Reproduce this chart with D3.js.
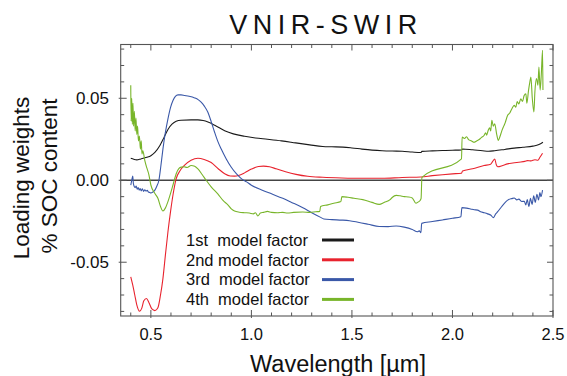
<!DOCTYPE html>
<html><head><meta charset="utf-8">
<script src="https://cdn.jsdelivr.net/npm/d3@7"></script>
<style>
html,body{margin:0;padding:0;background:#fff;}
svg{display:block;font-family:"Liberation Sans",Arial,Helvetica,sans-serif;}
</style></head>
<body><svg id="chart" width="567" height="376"></svg>
<script>
const title = "VNIR-SWIR";
const xLabel = "Wavelength [µm]";
const yLabelLines = ["Loading weights", "% SOC content"];
const xTickValues = [0.5, 1.0, 1.5, 2.0, 2.5];
const xTickLabels = ["0.5", "1.0", "1.5", "2.0", "2.5"];
const yTickValues = [-0.05, 0, 0.05];
const yTickLabels = ["-0.05", "0.00", "0.05"];
const seriesNames = ["1st  model factor", "2nd model factor", "3rd  model factor", "4th  model factor"];
const seriesColors = ["#1a1a1a", "#e8232e", "#3a58a8", "#78b52a"];

const factor1 = [[0.40,0.0134],[0.415,0.0128],[0.43,0.0124],[0.45,0.0130],[0.48,0.0140],[0.50,0.0150],[0.52,0.0170],[0.545,0.0212],[0.565,0.026],[0.585,0.031],[0.605,0.0342],[0.626,0.0360],[0.65,0.0366],[0.70,0.0368],[0.734,0.0368],[0.76,0.0364],[0.784,0.0355],[0.82,0.0334],[0.867,0.0302],[0.91,0.0283],[0.966,0.0268],[1.02,0.0258],[1.08,0.0250],[1.15,0.0240],[1.22,0.0228],[1.29,0.0216],[1.355,0.0206],[1.40,0.0204],[1.455,0.0202],[1.50,0.0197],[1.55,0.0190],[1.60,0.0184],[1.65,0.0180],[1.70,0.0178],[1.75,0.0177],[1.80,0.0172],[1.843,0.0169],[1.848,0.0176],[1.90,0.0179],[1.95,0.0181],[2.00,0.0183],[2.045,0.0185],[2.05,0.0191],[2.10,0.0186],[2.15,0.0180],[2.18,0.0177],[2.21,0.0180],[2.26,0.0188],[2.307,0.0196],[2.35,0.0201],[2.40,0.0208],[2.43,0.0218],[2.45,0.0232]];

const factor2 = [[0.40,-0.0589],[0.41,-0.064],[0.42,-0.070],[0.43,-0.076],[0.444,-0.0799],[0.455,-0.078],[0.465,-0.0735],[0.478,-0.0721],[0.49,-0.0745],[0.505,-0.0785],[0.52,-0.0795],[0.535,-0.0778],[0.548,-0.070],[0.56,-0.060],[0.572,-0.046],[0.585,-0.0314],[0.598,-0.019],[0.61,-0.009],[0.626,0.0010],[0.645,0.0058],[0.668,0.0092],[0.70,0.0122],[0.734,0.0134],[0.765,0.0127],[0.80,0.0108],[0.835,0.0070],[0.867,0.0040],[0.895,0.0026],[0.916,0.0025],[0.94,0.0031],[0.966,0.0045],[1.00,0.0068],[1.035,0.0084],[1.06,0.0086],[1.09,0.0082],[1.123,0.0070],[1.17,0.0052],[1.222,0.0036],[1.28,0.0024],[1.355,0.0018],[1.45,0.0014],[1.55,0.0012],[1.65,0.0012],[1.75,0.0017],[1.843,0.0020],[1.90,0.0028],[1.95,0.0034],[2.00,0.0039],[2.045,0.0043],[2.05,0.0057],[2.10,0.0070],[2.157,0.0090],[2.19,0.0098],[2.20,0.0115],[2.21,0.0130],[2.218,0.0095],[2.225,0.0082],[2.25,0.0090],[2.274,0.0100],[2.30,0.0105],[2.33,0.0110],[2.36,0.0115],[2.373,0.0120],[2.39,0.0118],[2.41,0.0125],[2.425,0.0122],[2.435,0.0140],[2.448,0.0165]];

const factor3 = [[0.40,-0.003],[0.405,0.000],[0.41,0.0025],[0.413,-0.002],[0.418,-0.004],[0.422,-0.0045],[0.427,-0.0035],[0.432,-0.0055],[0.437,-0.0045],[0.442,-0.006],[0.447,-0.005],[0.452,-0.0065],[0.458,-0.0052],[0.464,-0.0068],[0.47,-0.0058],[0.476,-0.0066],[0.482,-0.0062],[0.488,-0.0072],[0.495,-0.0075],[0.50,-0.0078],[0.51,-0.0072],[0.52,-0.0060],[0.53,-0.0035],[0.54,0.0000],[0.55,0.0090],[0.56,0.0190],[0.572,0.029],[0.585,0.0375],[0.598,0.0445],[0.61,0.0487],[0.622,0.0512],[0.635,0.0521],[0.65,0.0521],[0.668,0.0517],[0.69,0.0512],[0.718,0.0502],[0.735,0.0492],[0.75,0.0477],[0.766,0.0452],[0.783,0.0416],[0.80,0.0358],[0.817,0.0293],[0.833,0.0237],[0.85,0.0190],[0.875,0.0130],[0.90,0.0079],[0.925,0.0040],[0.95,0.0010],[0.976,-0.0010],[1.00,-0.0030],[1.057,-0.0062],[1.10,-0.0083],[1.156,-0.0110],[1.20,-0.0135],[1.256,-0.0168],[1.30,-0.0198],[1.347,-0.0228],[1.36,-0.0236],[1.40,-0.0240],[1.45,-0.0243],[1.488,-0.0247],[1.53,-0.0256],[1.58,-0.0268],[1.636,-0.0282],[1.68,-0.0283],[1.72,-0.0279],[1.76,-0.0286],[1.80,-0.0300],[1.826,-0.0314],[1.835,-0.0309],[1.843,-0.0320],[1.847,-0.0263],[1.90,-0.0252],[1.95,-0.0242],[2.00,-0.0232],[2.042,-0.0222],[2.047,-0.0167],[2.07,-0.0170],[2.09,-0.0175],[2.108,-0.0180],[2.125,-0.0182],[2.14,-0.0192],[2.157,-0.0198],[2.175,-0.0205],[2.19,-0.0212],[2.204,-0.0228],[2.215,-0.0205],[2.225,-0.0192],[2.245,-0.0160],[2.266,-0.0130],[2.28,-0.0118],[2.295,-0.0112],[2.307,-0.0108],[2.32,-0.0120],[2.33,-0.0115],[2.345,-0.0130],[2.357,-0.0128],[2.365,-0.0150],[2.372,-0.0118],[2.38,-0.0160],[2.388,-0.0110],[2.396,-0.0148],[2.404,-0.0095],[2.412,-0.0135],[2.42,-0.0085],[2.428,-0.0120],[2.435,-0.0075],[2.44,-0.0100],[2.448,-0.0060]];

const factor4 = [[0.40,0.0579],[0.402,0.036],[0.405,0.050],[0.408,0.034],[0.411,0.047],[0.414,0.033],[0.418,0.042],[0.422,0.030],[0.426,0.038],[0.43,0.028],[0.434,0.033],[0.438,0.024],[0.443,0.027],[0.448,0.019],[0.452,0.024],[0.456,0.016],[0.46,0.018],[0.47,0.012],[0.48,0.0075],[0.49,0.0035],[0.50,-0.0029],[0.517,-0.0075],[0.535,-0.0110],[0.548,-0.0160],[0.56,-0.0188],[0.572,-0.0170],[0.585,-0.0130],[0.598,-0.0080],[0.61,-0.0029],[0.626,0.0040],[0.64,0.0072],[0.651,0.0080],[0.665,0.0082],[0.68,0.0078],[0.70,0.0090],[0.718,0.0085],[0.734,0.0069],[0.755,0.0035],[0.775,0.0000],[0.80,-0.0040],[0.834,-0.0085],[0.86,-0.0125],[0.883,-0.0150],[0.90,-0.0175],[0.916,-0.0188],[0.94,-0.0195],[0.966,-0.0198],[0.99,-0.0200],[1.01,-0.0205],[1.02,-0.0198],[1.032,-0.0218],[1.045,-0.0200],[1.06,-0.0196],[1.08,-0.0190],[1.10,-0.0196],[1.13,-0.0198],[1.156,-0.0196],[1.18,-0.0200],[1.21,-0.0196],[1.256,-0.0194],[1.29,-0.0196],[1.32,-0.0192],[1.34,-0.0190],[1.344,-0.0160],[1.38,-0.0150],[1.41,-0.0140],[1.445,-0.0130],[1.45,-0.0100],[1.48,-0.0104],[1.51,-0.0110],[1.554,-0.0118],[1.60,-0.0135],[1.636,-0.0147],[1.66,-0.0135],[1.69,-0.0118],[1.70,-0.0105],[1.72,-0.0092],[1.74,-0.0095],[1.76,-0.0100],[1.78,-0.0102],[1.80,-0.0108],[1.818,-0.0140],[1.83,-0.0132],[1.838,-0.0125],[1.844,-0.0110],[1.848,0.0018],[2.045,0.0130],[2.048,0.0263],[2.06,0.0255],[2.07,0.0265],[2.08,0.0248],[2.095,0.0240],[2.107,0.0232],[2.12,0.0240],[2.135,0.0250],[2.145,0.0262],[2.157,0.0273],[2.165,0.0290],[2.17,0.0275],[2.178,0.0305],[2.185,0.0320],[2.19,0.0300],[2.196,0.0365],[2.203,0.0330],[2.21,0.0345],[2.22,0.0280],[2.228,0.0243],[2.235,0.0262],[2.245,0.0300],[2.255,0.0330],[2.262,0.0350],[2.274,0.0395],[2.285,0.0410],[2.295,0.0435],[2.307,0.0457],[2.315,0.0445],[2.322,0.0480],[2.33,0.0465],[2.34,0.0497],[2.348,0.0480],[2.356,0.0515],[2.365,0.0528],[2.37,0.0470],[2.378,0.0545],[2.385,0.0600],[2.39,0.0630],[2.397,0.0500],[2.405,0.0416],[2.41,0.0540],[2.418,0.0620],[2.425,0.0580],[2.43,0.0690],[2.436,0.0550],[2.442,0.0650],[2.448,0.0793],[2.45,0.0550]];

const seriesData = [factor1, factor2, factor3, factor4];

const svg = d3.select("#chart");
const pL = 120.7, pR = 553, pT = 44.5, pB = 316;
const x = d3.scaleLinear().domain([0.35, 2.5]).range([pL, pR]);
const y = d3.scaleLinear().domain([-0.0828, 0.0828]).range([pB, pT]);
const axisColor = "#555";

// title
svg.append("text").attr("x", 326).attr("y", 34).attr("text-anchor", "middle")
  .style("font-size", "27px").style("letter-spacing", "5.5px").attr("fill", "#111")
  .text(title);

svg.append("clipPath").attr("id", "clip").append("rect")
  .attr("x", pL).attr("y", pT).attr("width", pR - pL).attr("height", pB - pT);

const line = d3.line().x(d => x(d[0])).y(d => y(d[1])).curve(d3.curveMonotoneX);

// zero line
svg.append("line").attr("x1", pL).attr("x2", pR).attr("y1", y(0)).attr("y2", y(0))
  .attr("stroke", "#444").attr("stroke-width", 1.3);

const g = svg.append("g").attr("clip-path", "url(#clip)");
seriesData.forEach((d, i) => {
  g.append("path").datum(d).attr("d", line).attr("fill", "none")
    .attr("stroke", seriesColors[i]).attr("stroke-width", 1.1).attr("stroke-linejoin", "round");
});

// frame
svg.append("rect").attr("x", pL).attr("y", pT).attr("width", pR - pL).attr("height", pB - pT)
  .attr("fill", "none").attr("stroke", axisColor).attr("stroke-width", 1.1);

// ticks
const xMinor = d3.range(4, 26).map(v => v / 10);
const yMinor = d3.range(-8, 9).map(v => v / 100);
const tickG = svg.append("g").attr("stroke", axisColor).attr("stroke-width", 1);
xMinor.forEach(v => {
  const major = Math.abs(v * 2 - Math.round(v * 2)) < 1e-6;
  const len = major ? 6 : 3.5;
  tickG.append("line").attr("x1", x(v)).attr("x2", x(v)).attr("y1", pB + (major ? 2 : 0)).attr("y2", pB - len);
  tickG.append("line").attr("x1", x(v)).attr("x2", x(v)).attr("y1", pT).attr("y2", pT + len);
});
yMinor.forEach(v => {
  const major = Math.abs(v * 20 - Math.round(v * 20)) < 1e-6;
  const len = major ? 6 : 3.5;
  tickG.append("line").attr("y1", y(v)).attr("y2", y(v)).attr("x1", pL - (major ? 2 : 0)).attr("x2", pL + len);
  tickG.append("line").attr("y1", y(v)).attr("y2", y(v)).attr("x1", pR).attr("x2", pR - len);
});

// tick labels
xTickValues.forEach((v, i) => {
  svg.append("text").attr("x", x(v)).attr("y", 340).attr("text-anchor", "middle")
    .style("font-size", "16.5px").attr("fill", "#111").text(xTickLabels[i]);
});
yTickValues.forEach((v, i) => {
  svg.append("text").attr("x", 109).attr("y", y(v)).attr("dy", "0.36em").attr("text-anchor", "end")
    .style("font-size", "17px").attr("fill", "#111").text(yTickLabels[i]);
});

// axis titles
svg.append("text").attr("x", 338).attr("y", 372).attr("text-anchor", "middle")
  .style("font-size", "23.5px").attr("fill", "#111").text(xLabel);
svg.append("text").attr("transform", "translate(29,178) rotate(-90)").attr("text-anchor", "middle")
  .style("font-size", "22.5px").attr("fill", "#111").text(yLabelLines[0]);
svg.append("text").attr("transform", "translate(57,176) rotate(-90)").attr("text-anchor", "middle")
  .style("font-size", "22.5px").attr("fill", "#111").text(yLabelLines[1]);

// legend
seriesNames.forEach((name, i) => {
  const ly = 240 + i * 19.8;
  svg.append("text").attr("x", 186).attr("y", ly).attr("dy", "0.35em")
    .style("font-size", "16.5px").style("white-space", "pre").attr("fill", "#111").text(name);
  svg.append("line").attr("x1", 322).attr("x2", 354).attr("y1", ly).attr("y2", ly)
    .attr("stroke", seriesColors[i]).attr("stroke-width", 3);
});
</script></body></html>
